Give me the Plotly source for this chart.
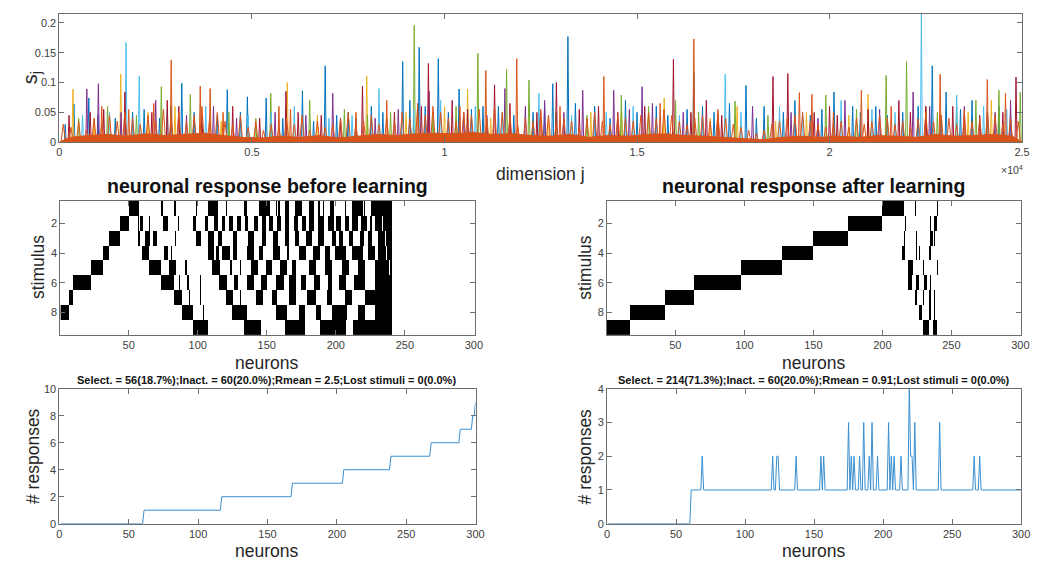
import plotly.graph_objects as go

# ---------------- top panel: s_j vs dimension j ----------------
dim_tickvals = [0, 5000, 10000, 15000, 20000, 25000]
dim_ticktext = ['0', '0.5', '1', '1.5', '2', '2.5']
s_tickvals = [0, 0.05, 0.1, 0.15, 0.2]
s_ticktext = ['0', '0.05', '0.1', '0.15', '0.2']

blue_pos = [377, 762, 1450, 2200, 3177, 3500, 4359, 4881, 5369, 6311, 6902, 7500, 8100, 8914, 9343,
            9839, 10379, 11000, 12811, 13205, 13900, 14700, 15500, 16475, 17000, 17829, 18300, 19100,
            20115, 20600, 21200, 22667, 23026, 23700, 24400,
            150, 1000, 1900, 2600, 2900, 4100, 4700, 5800, 6600, 7200, 7700, 8400, 9100, 9500, 10100,
            10700, 11400, 11800, 12300, 12600, 13400, 14300, 15000, 15800, 16300, 16700, 17400, 18100,
            18800, 19500, 19800, 20800, 21500, 21900, 22300, 22900, 23400, 24100, 24700]
blue_h = [0.064, 0.074, 0.040, 0.055, 0.099, 0.050, 0.088, 0.076, 0.074, 0.086, 0.128, 0.050, 0.060, 0.135,
          0.159, 0.140, 0.089, 0.060, 0.098, 0.177, 0.060, 0.070, 0.060, 0.117, 0.050, 0.095, 0.060, 0.070,
          0.084, 0.060, 0.060, 0.128, 0.084, 0.070, 0.060,
          0.030, 0.045, 0.050, 0.040, 0.060, 0.045, 0.050, 0.040, 0.035, 0.045, 0.040, 0.050, 0.070, 0.060,
          0.050, 0.055, 0.060, 0.045, 0.050, 0.060, 0.065, 0.040, 0.050, 0.045, 0.055, 0.060, 0.065, 0.040,
          0.050, 0.045, 0.055, 0.050, 0.045, 0.050, 0.060, 0.045, 0.055, 0.050, 0.045]

yellow_pos = [351, 1593, 3000, 5917, 7981, 10000, 10600, 13800, 15705, 17600, 19400, 21000, 22500, 24200,
              900, 2300, 4200, 6700, 9000, 11200, 12700, 14600, 16900, 18600, 20500, 23600]
yellow_h = [0.089, 0.114, 0.060, 0.100, 0.111, 0.060, 0.089, 0.050, 0.074, 0.060, 0.050, 0.080, 0.060, 0.070,
            0.040, 0.050, 0.035, 0.045, 0.050, 0.040, 0.045, 0.050, 0.040, 0.035, 0.045, 0.050]

purple_pos = [711, 1011, 2500, 4000, 7098, 9600, 11569, 12600, 13590, 14395, 15131, 16200, 18000, 20400,
              22170, 23500, 24700,
              1600, 3300, 4600, 5600, 6400, 8200, 8800, 10500, 11100, 12100, 13100, 14800, 15400, 17100,
              19000, 19700, 21300, 22600, 24300]
purple_h = [0.089, 0.098, 0.070, 0.060, 0.082, 0.085, 0.090, 0.070, 0.087, 0.087, 0.093, 0.050, 0.060, 0.070,
            0.084, 0.060, 0.070,
            0.050, 0.045, 0.040, 0.050, 0.045, 0.040, 0.055, 0.050, 0.045, 0.060, 0.050, 0.055, 0.065, 0.045,
            0.050, 0.040, 0.055, 0.060, 0.050]

green_pos = [1250, 2646, 3400, 5489, 6500, 8600, 9215, 10867, 11612, 12195, 14592, 16000, 17546, 19902,
             21469, 21999, 23800, 24398, 24953,
             500, 2000, 4400, 5100, 7400, 8000, 9700, 10300, 12900, 13700, 15300, 16600, 18400, 20700,
             22800, 23300]
green_h = [0.060, 0.093, 0.080, 0.082, 0.070, 0.050, 0.196, 0.149, 0.122, 0.104, 0.079, 0.070, 0.069, 0.079,
           0.112, 0.135, 0.070, 0.087, 0.084,
           0.040, 0.045, 0.050, 0.040, 0.055, 0.045, 0.050, 0.060, 0.050, 0.045, 0.060, 0.050, 0.045, 0.055,
           0.050, 0.060]

lightblue_pos = [1730, 2072, 3800, 6100, 8298, 9900, 12452, 14900, 17290, 18700, 20300, 22384, 23301, 24000,
                 600, 1300, 2800, 4900, 5500, 7000, 7600, 9200, 10800, 11500, 13300, 14200, 16100, 17700,
                 19300, 21100, 21700, 24600]
lightblue_h = [0.167, 0.111, 0.060, 0.060, 0.090, 0.070, 0.082, 0.060, 0.114, 0.060, 0.070, 0.215, 0.079, 0.060,
               0.045, 0.050, 0.055, 0.045, 0.050, 0.040, 0.045, 0.055, 0.060, 0.050, 0.045, 0.050, 0.045, 0.050,
               0.045, 0.055, 0.050, 0.055]

darkred_pos = [800, 1700, 2800, 4500, 5883, 7870, 9582, 10200, 11300, 12906, 14000, 15945, 16800, 18531,
               18916, 20000, 21800, 23200, 24842,
               250, 1150, 2400, 3100, 3700, 5200, 6200, 6800, 7300, 8700, 9400, 10600, 11700, 12400, 13500,
               14500, 15200, 16400, 17200, 19600, 20200, 21000, 22100, 22500, 23900, 24500]
darkred_h = [0.050, 0.084, 0.070, 0.060, 0.085, 0.094, 0.132, 0.070, 0.096, 0.100, 0.060, 0.139, 0.070, 0.110,
             0.115, 0.060, 0.070, 0.060, 0.109,
             0.045, 0.055, 0.050, 0.060, 0.045, 0.040, 0.050, 0.045, 0.040, 0.050, 0.060, 0.055, 0.065, 0.050,
             0.055, 0.050, 0.060, 0.050, 0.045, 0.050, 0.045, 0.055, 0.050, 0.060, 0.045, 0.050]

orange_pos = [2903, 3657, 3913, 5700, 8500, 11073, 11877, 14138, 16475, 19216, 19542, 20826, 22872, 24097, 24568,
              1100, 1800, 2450, 4250, 6000, 7700, 9300, 10400, 12500, 13000, 15600, 17100, 20100, 21600, 23500]
orange_h = [0.138, 0.094, 0.090, 0.060, 0.070, 0.120, 0.140, 0.110, 0.173, 0.083, 0.080, 0.087, 0.114, 0.105, 0.082,
            0.060, 0.055, 0.065, 0.050, 0.055, 0.050, 0.065, 0.060, 0.055, 0.060, 0.065, 0.055, 0.050, 0.060, 0.055]

# dense low-level orange activity, one reading every 200 dimensions
orange_bg_step = 200
orange_bg = [
    0.030, 0.025, 0.035, 0.020, 0.040, 0.030, 0.045, 0.035, 0.050, 0.040, 0.030, 0.045, 0.035, 0.055, 0.040,
    0.050, 0.035, 0.045, 0.060, 0.040, 0.050, 0.035, 0.030, 0.045, 0.025,
    0.035, 0.020, 0.030, 0.025, 0.040, 0.030, 0.045, 0.020, 0.035, 0.025, 0.030, 0.040, 0.050, 0.030, 0.035,
    0.045, 0.030, 0.040, 0.035, 0.050, 0.040, 0.055, 0.045, 0.060, 0.050,
    0.040, 0.035, 0.050, 0.045, 0.055, 0.040, 0.060, 0.050, 0.045, 0.030, 0.040, 0.035, 0.050, 0.045, 0.030,
    0.040, 0.035, 0.025, 0.040, 0.050, 0.035, 0.030, 0.045, 0.040, 0.035,
    0.045, 0.050, 0.040, 0.055, 0.045, 0.035, 0.030, 0.040, 0.045, 0.035, 0.050, 0.040, 0.030, 0.025, 0.020,
    0.015, 0.020, 0.030, 0.035, 0.040, 0.045, 0.050, 0.035, 0.030, 0.025,
    0.030, 0.035, 0.025, 0.040, 0.030, 0.035, 0.045, 0.040, 0.030, 0.035, 0.025, 0.040, 0.050, 0.035, 0.045,
    0.040, 0.030, 0.045, 0.035, 0.040, 0.050, 0.045, 0.030, 0.040, 0.035]
# solid lower layer of the orange mass, one reading every 500 dimensions
orange_floor_step = 500
orange_floor = [
    0.008, 0.011, 0.013, 0.010, 0.014, 0.011, 0.013, 0.015, 0.011, 0.008,
    0.007, 0.010, 0.008, 0.011, 0.007, 0.010, 0.013, 0.011, 0.014, 0.015,
    0.014, 0.016, 0.013, 0.014, 0.011, 0.010, 0.013, 0.008, 0.011, 0.010,
    0.013, 0.014, 0.011, 0.010, 0.008, 0.005, 0.004, 0.008, 0.010, 0.008,
    0.010, 0.008, 0.011, 0.010, 0.008, 0.013, 0.010, 0.011, 0.013, 0.010]

# ---------------- middle panels: binary response maps (stimulus x neuron) ----------------
n_neurons = 300
n_stimuli = 9
neuron_ticks = [50, 100, 150, 200, 250, 300]
stim_ticks = [2, 4, 6, 8]

# black runs (first neuron, last neuron) for stimuli 1..9, before learning
before_runs = [
    [(51, 57), (74, 74), (83, 84), (99, 99), (108, 114), (121, 121), (134, 135), (145, 152), (157, 157),
     (159, 159), (164, 166), (171, 175), (181, 184), (188, 188), (191, 191), (196, 198), (207, 207),
     (212, 219), (221, 221), (226, 240)],
    [(44, 50), (57, 57), (59, 60), (65, 65), (75, 78), (86, 86), (97, 98), (106, 107), (112, 114), (118, 119),
     (123, 125), (129, 131), (135, 136), (141, 143), (147, 149), (152, 154), (158, 160), (164, 166),
     (170, 172), (176, 178), (181, 184), (188, 191), (195, 198), (201, 203), (207, 209), (212, 216),
     (219, 222), (225, 226), (229, 233), (235, 240)],
    [(36, 43), (57, 58), (62, 65), (68, 70), (84, 84), (99, 102), (108, 111), (115, 117), (126, 128),
     (137, 140), (147, 149), (155, 158), (164, 166), (171, 173), (179, 182), (188, 191), (198, 200),
     (203, 205), (210, 212), (218, 220), (224, 226), (231, 235), (237, 240)],
    [(32, 35), (60, 64), (76, 78), (81, 81), (108, 111), (114, 115), (118, 123), (126, 128), (136, 140),
     (145, 147), (155, 159), (165, 166), (174, 178), (184, 188), (193, 195), (200, 207), (212, 219),
     (224, 228), (231, 236), (238, 240)],
    [(23, 31), (65, 73), (80, 84), (91, 92), (111, 116), (124, 124), (131, 131), (139, 143), (150, 153),
     (160, 164), (169, 171), (181, 185), (193, 197), (205, 209), (217, 221), (229, 238), (240, 240)],
    [(10, 22), (74, 82), (87, 87), (93, 93), (102, 102), (116, 121), (127, 129), (136, 140), (146, 150),
     (157, 162), (167, 171), (175, 178), (185, 188), (195, 197), (203, 207), (214, 221), (229, 240)],
    [(7, 9), (83, 88), (94, 94), (102, 102), (121, 125), (131, 131), (143, 147), (154, 157), (167, 171),
     (180, 185), (194, 197), (207, 211), (222, 240)],
    [(1, 6), (89, 96), (104, 104), (125, 135), (157, 164), (174, 177), (186, 189), (198, 208), (217, 221),
     (229, 240)],
    [(97, 107), (134, 145), (164, 177), (189, 207), (213, 240)],
]

after_runs = [
    [(200, 215), (224, 224), (240, 240)],
    [(176, 199), (217, 217), (235, 235), (238, 239)],
    [(150, 175), (216, 216), (225, 225), (235, 236), (238, 238)],
    [(128, 149), (215, 216), (225, 225), (227, 227), (234, 235)],
    [(98, 127), (219, 222), (230, 230), (240, 240)],
    [(64, 97), (219, 221), (225, 226), (231, 232), (235, 235)],
    [(43, 63), (224, 225), (230, 230), (234, 235), (238, 238)],
    [(18, 42), (227, 228), (234, 235), (238, 238)],
    [(1, 17), (230, 233), (237, 239)],
]

# ---------------- bottom panels: number of responses per neuron ----------------
# before learning: sorted counts -> how many neurons respond to 0,1,2,...,9 stimuli
before_group_sizes = [60, 56, 51, 37, 34, 29, 21, 9, 2, 1]
# after learning: first 60 neurons inactive, the rest respond once except these
after_inactive = 60
after_multi = {69: 2, 120: 2, 123: 2, 124: 2, 137: 2, 155: 2, 157: 2, 175: 3, 177: 2, 179: 2, 183: 2,
               186: 3, 190: 2, 192: 3, 196: 2, 204: 3, 206: 2, 208: 2, 213: 2, 219: 4, 220: 2, 221: 2,
               223: 3, 241: 3, 266: 2, 270: 2}

title_before = 'neuronal response before learning'
title_after = 'neuronal response after learning'
sub_before = 'Select. = 56(18.7%);Inact. = 60(20.0%);Rmean = 2.5;Lost stimuli = 0(0.0%)'
sub_after = 'Select. = 214(71.3%);Inact. = 60(20.0%);Rmean = 0.91;Lost stimuli = 0(0.0%)'

# ---------------- build ----------------
FONT = 'Liberation Sans, Arial, sans-serif'
# the page body keeps its default 8px margin; the figure fills the rest of the 1039x571 window
OFF = 8
W, H = 1039 - OFF, 571 - 2 * OFF
LINE = '#6e6e6e'
TXT = '#404040'
ORANGE = '#D95319'


def px(x):
    return (x - OFF) / W


def py(y):
    return 1 - (y - OFF) / H


def spikes(pos, h, half=25):
    pairs = sorted(zip(pos, h))
    xs, ys = [], []
    for p, v in pairs:
        xs += [p - half, p, p + half]
        ys += [0, v, 0]
    return xs, ys


def runs_to_matrix(runs):
    z = []
    for row in runs:
        r = [0] * n_neurons
        for a, b in row:
            for k in range(a, b + 1):
                r[k - 1] = 1
        z.append(r)
    return z


fig = go.Figure()

series = [(blue_pos, blue_h, '#0072BD'), (yellow_pos, yellow_h, '#EDB120'), (purple_pos, purple_h, '#7E2F8E'),
          (green_pos, green_h, '#77AC30'), (lightblue_pos, lightblue_h, '#4DBEEE'),
          (darkred_pos, darkred_h, '#A2142F')]
for pos, h, col in series:
    xs, ys = spikes(pos, h)
    fig.add_trace(go.Scatter(x=xs, y=ys, mode='lines', line=dict(color=col, width=1), xaxis='x', yaxis='y'))

# solid lower orange layer
fx = [0]
fy = [0]
for i, v in enumerate(orange_floor):
    fx.append(i * orange_floor_step + orange_floor_step / 2)
    fy.append(v)
fx.append(len(orange_floor) * orange_floor_step)
fy.append(0)
fig.add_trace(go.Scatter(x=fx, y=fy, mode='lines', fill='tozeroy', fillcolor=ORANGE,
                         line=dict(color=ORANGE, width=1), xaxis='x', yaxis='y'))

# hairy orange activity on top
bx = [i * orange_bg_step + orange_bg_step / 2 for i in range(len(orange_bg))]
xs, ys = spikes(bx, orange_bg, half=60)
fig.add_trace(go.Scatter(x=xs, y=ys, mode='lines', line=dict(color=ORANGE, width=1), xaxis='x', yaxis='y'))
xs, ys = spikes(orange_pos, orange_h)
fig.add_trace(go.Scatter(x=xs, y=ys, mode='lines', line=dict(color=ORANGE, width=1), xaxis='x', yaxis='y'))

neurons = list(range(1, n_neurons + 1))
stimuli = list(range(1, n_stimuli + 1))
bw = [[0, 'white'], [1, 'black']]
fig.add_trace(go.Heatmap(z=runs_to_matrix(before_runs), x=neurons, y=stimuli, colorscale=bw, zmin=0, zmax=1,
                         showscale=False, xaxis='x2', yaxis='y2'))
fig.add_trace(go.Heatmap(z=runs_to_matrix(after_runs), x=neurons, y=stimuli, colorscale=bw, zmin=0, zmax=1,
                         showscale=False, xaxis='x3', yaxis='y3'))

before_counts = []
for c, size in enumerate(before_group_sizes):
    before_counts += [c] * size
after_counts = [0 if n <= after_inactive else after_multi.get(n, 1) for n in neurons]

fig.add_trace(go.Scatter(x=neurons, y=before_counts, mode='lines', line=dict(color='#3a8fd0', width=1),
                         xaxis='x4', yaxis='y4'))
fig.add_trace(go.Scatter(x=neurons, y=after_counts, mode='lines', line=dict(color='#3a8fd0', width=1),
                         xaxis='x5', yaxis='y5'))


def axis(domain, rng, tickvals, ticktext=None, anchor=None):
    d = dict(domain=domain, range=rng, tickvals=tickvals, showline=True, linecolor=LINE, linewidth=1,
             mirror='ticks', ticks='inside', ticklen=5, tickcolor=LINE, showgrid=False, zeroline=False,
             tickfont=dict(family=FONT, size=11, color=TXT), anchor=anchor, fixedrange=True)
    if ticktext is not None:
        d['ticktext'] = ticktext
    return d


top_x = [px(57), px(1031)]
top_y = [py(139), py(8)]
midL_x = [px(58), px(477)]
midR_x = [px(611), px(1030)]
mid_y = [py(336), py(199)]
botL_x = [px(57), px(478)]
botR_x = [px(611), px(1030)]
bot_y = [py(529), py(391)]

fig.update_layout(
    width=W, height=H, margin=dict(l=0, r=0, t=0, b=0), paper_bgcolor='white', plot_bgcolor='white',
    showlegend=False, hovermode=False,
    xaxis=axis(top_x, [0, 25000], dim_tickvals, dim_ticktext, 'y'),
    yaxis=axis(top_y, [0, 0.2148], s_tickvals, s_ticktext, 'x'),
    xaxis2=axis(midL_x, [0.5, 300.5], neuron_ticks, None, 'y2'),
    yaxis2=axis(mid_y, [9.5, 0.5], stim_ticks, None, 'x2'),
    xaxis3=axis(midR_x, [0.5, 300.5], neuron_ticks, None, 'y3'),
    yaxis3=axis(mid_y, [9.5, 0.5], stim_ticks, None, 'x3'),
    xaxis4=axis(botL_x, [0, 300], [0, 50, 100, 150, 200, 250, 300], None, 'y4'),
    yaxis4=axis(bot_y, [0, 10], [0, 2, 4, 6, 8, 10], None, 'x4'),
    xaxis5=axis(botR_x, [0, 300], [0, 50, 100, 150, 200, 250, 300], None, 'y5'),
    yaxis5=axis(bot_y, [0, 4], [0, 1, 2, 3, 4], None, 'x5'),
)


def ann(text, x, y, size, bold=False, angle=0, color='#262626', xanchor='center'):
    t = '<b>%s</b>' % text if bold else text
    fig.add_annotation(text=t, x=px(x), y=py(y), xref='paper', yref='paper', showarrow=False,
                       xanchor=xanchor, yanchor='middle', textangle=angle,
                       font=dict(family=FONT, size=size, color=color))


ann('dimension j', 544, 172, 17.5)
ann('s<sub>j</sub>', 29, 73, 20, angle=-90)
ann('×10<sup>4</sup>', 1008, 167, 10.5, color=TXT, xanchor='left')
ann(title_before, 268, 184, 19.5, bold=True, color='#111')
ann(title_after, 820, 184, 19.5, bold=True, color='#111')
ann('stimulus', 36, 267, 17.5, angle=-90)
ann('stimulus', 589, 267, 17.5, angle=-90)
ann('neurons', 267, 365, 17.5)
ann('neurons', 820, 365, 17.5)
ann(sub_before, 267, 382, 11, bold=True, color='#111')
ann(sub_after, 820, 382, 11, bold=True, color='#111')
ann('# responses', 30, 460, 17.5, angle=-90)
ann('# responses', 589, 460, 17.5, angle=-90)
ann('neurons', 267, 557, 17.5)
ann('neurons', 820, 557, 17.5)

fig.write_html('out.html', config={'displayModeBar': False})
